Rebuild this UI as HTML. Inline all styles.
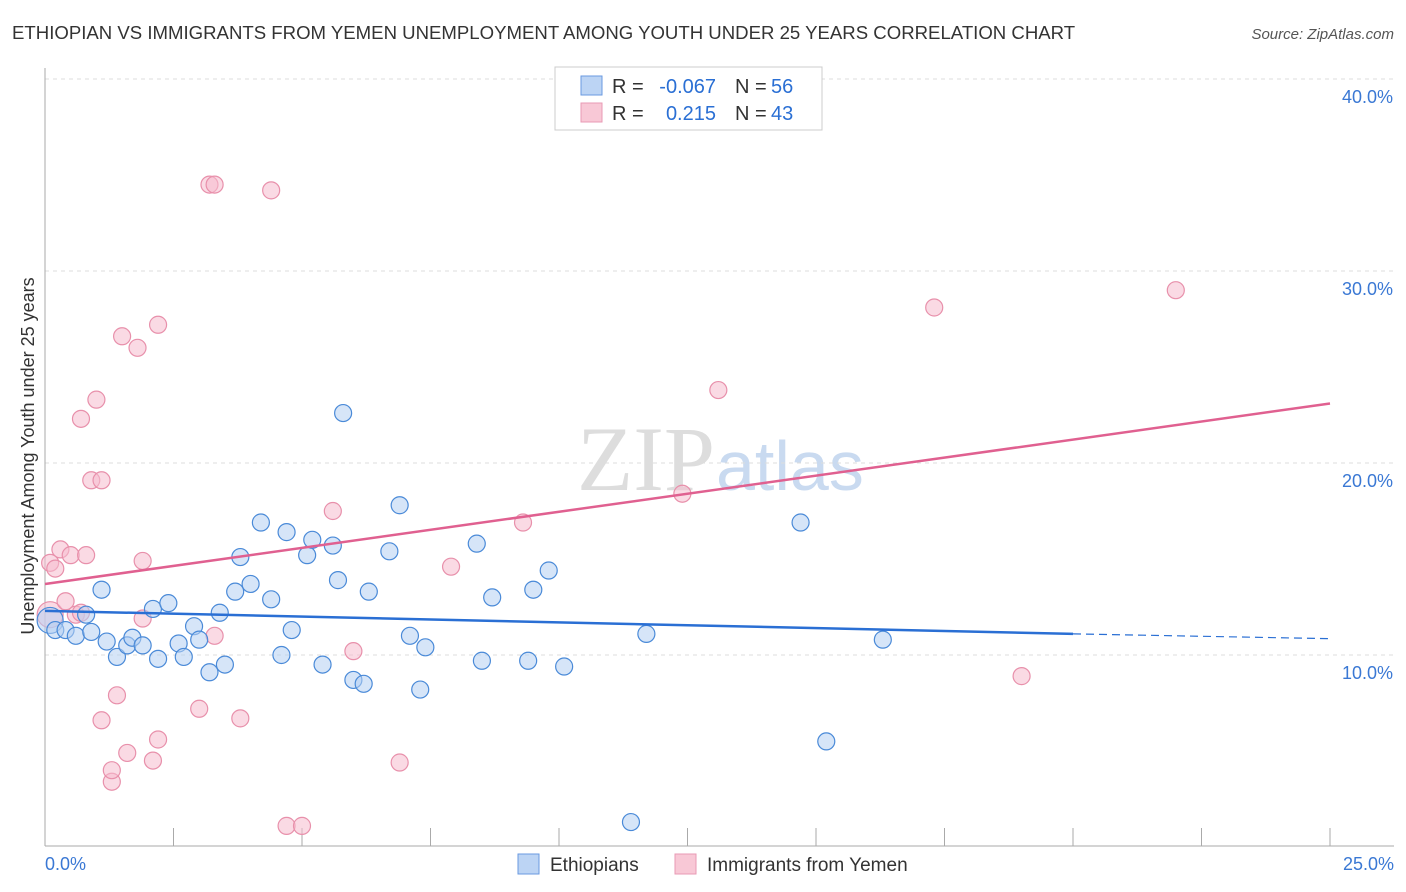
<!DOCTYPE html>
<html><head><meta charset="utf-8"><style>
body{margin:0;background:#fff;font-family:"Liberation Sans",sans-serif;}
#wrap{position:relative;width:1406px;height:892px;overflow:hidden}
</style></head><body><div id="wrap">
<svg id="svg" width="1406" height="892" xmlns="http://www.w3.org/2000/svg">
<text x="12" y="39" font-size="18.6" fill="#333">ETHIOPIAN VS IMMIGRANTS FROM YEMEN UNEMPLOYMENT AMONG YOUTH UNDER 25 YEARS CORRELATION CHART</text>
<text x="1394" y="39" font-size="15" fill="#555" font-style="italic" text-anchor="end">Source: ZipAtlas.com</text>
<text x="715" y="490" font-size="92" fill="#ddd" font-family="Liberation Serif" text-anchor="end">ZIP</text>
<text x="716" y="490" font-size="70" fill="#c9daf0">atlas</text>
<text transform="translate(34,456) rotate(-90)" font-size="18" fill="#333" text-anchor="middle">Unemployment Among Youth under 25 years</text>
<g id="grid"></g><g id="marks"></g>
<rect x="555" y="67" width="267" height="63" fill="#fff" stroke="#ccc"/>
<rect x="581" y="76" width="21" height="19" fill="#bcd4f4" stroke="#6a9ae0"/>
<rect x="581" y="103" width="21" height="19" fill="#f8c8d6" stroke="#e89ab4"/>
<g font-size="20" fill="#333">
<text x="612" y="93">R =</text><text x="716" y="93" text-anchor="end" fill="#2a6fd4">-0.067</text><text x="735" y="93">N =</text><text x="771" y="93" fill="#2a6fd4">56</text></g>
<g font-size="20" fill="#333">
<text x="612" y="120">R =</text><text x="716" y="120" text-anchor="end" fill="#2a6fd4">0.215</text><text x="735" y="120">N =</text><text x="771" y="120" fill="#2a6fd4">43</text></g>
<text x="45" y="870" font-size="18" fill="#3a78d4">0.0%</text>
<text x="1394" y="870" font-size="18" fill="#3a78d4" text-anchor="end">25.0%</text>
<rect x="518" y="854" width="21" height="20" fill="#bcd4f4" stroke="#6a9ae0"/>
<text x="550" y="871" font-size="19" fill="#333">Ethiopians</text>
<rect x="675" y="854" width="21" height="20" fill="#f8c8d6" stroke="#e89ab4"/>
<text x="707" y="871" font-size="19" fill="#333">Immigrants from Yemen</text>
</svg></div>
<script>
const yTicks=[10,20,30,40];
const yTickLabels=["10.0%","20.0%","30.0%","40.0%"];
const xTicks=[0,2.5,5,7.5,10,12.5,15,17.5,20,22.5,25];
const ethX=[0.1,0.2,0.4,0.6,0.8,0.9,1.1,1.2,1.4,1.6,1.7,1.9,2.1,2.2,2.4,2.6,2.7,2.9,3.0,3.2,3.4,3.5,3.7,3.8,4.0,4.2,4.4,4.6,4.7,4.8,5.1,5.2,5.4,5.6,5.7,5.8,6.0,6.2,6.3,6.7,6.9,7.1,7.3,7.4,8.4,8.5,8.7,9.4,9.5,9.8,10.1,11.4,11.7,14.7,15.2,16.3];
const ethY=[11.8,11.3,11.3,11.0,12.1,11.2,13.4,10.7,9.9,10.5,10.9,10.5,12.4,9.8,12.7,10.6,9.9,11.5,10.8,9.1,12.2,9.5,13.3,15.1,13.7,16.9,12.9,10.0,16.4,11.3,15.2,16.0,9.5,15.7,13.9,22.6,8.7,8.5,13.3,15.4,17.8,11.0,8.2,10.4,15.8,9.7,13.0,9.7,13.4,14.4,9.4,1.3,11.1,16.9,5.5,10.8];
const yemX=[0.1,0.1,0.2,0.3,0.4,0.5,0.6,0.7,0.7,0.8,0.9,1.0,1.1,1.1,1.3,1.3,1.4,1.5,1.6,1.8,1.9,1.9,2.1,2.2,2.2,3.0,3.2,3.3,3.3,3.8,4.4,4.7,5.0,5.6,6.0,6.9,7.9,9.3,12.4,13.1,17.3,19.0,22.0];
const yemY=[12.1,14.8,14.5,15.5,12.8,15.2,12.1,12.2,22.3,15.2,19.1,23.3,19.1,6.6,3.4,4.0,7.9,26.6,4.9,26.0,14.9,11.9,4.5,27.2,5.6,7.2,34.5,34.5,11.0,6.7,34.2,1.1,1.1,17.5,10.2,4.4,14.6,16.9,18.4,23.8,28.1,8.9,29.0];
const ethTrendX=[0,20,25];
const ethTrendY=[12.3,11.1,10.85];
const yemTrendX=[0,25];
const yemTrendY=[13.7,23.1];
const NS="http://www.w3.org/2000/svg";
const sx=v=>45+v/25*1285, sy=v=>847-v*19.2;
function mk(t,a,p){const e=document.createElementNS(NS,t);for(const k in a)e.setAttribute(k,a[k]);p.appendChild(e);return e;}
const grid=document.getElementById('grid'),marks=document.getElementById('marks');
yTicks.forEach((t,i)=>{
 const l=mk('line',{x1:45,x2:1394,y1:sy(t),y2:sy(t),stroke:'#ddd','stroke-dasharray':'4,4'},grid);
 
 
 const tx=mk('text',{x:1393,y:sy(t)+24,'font-size':18,fill:'#3a78d4','text-anchor':'end'},grid);
 tx.textContent=yTickLabels[i];
 
 
});
const topLine=mk('line',{x1:45,x2:1394,y1:79,y2:79,stroke:'#ddd','stroke-dasharray':'4,4'},grid);


const ya=mk('line',{x1:45,x2:45,y1:68,y2:846,stroke:'#aaa'},grid);


const xa=mk('line',{x1:45,x2:1394,y1:846,y2:846,stroke:'#aaa'},grid);


xTicks.forEach(t=>{
 const l=mk('line',{x1:sx(t),x2:sx(t),y1:828,y2:846,stroke:'#aaa'},grid);
 
 
});
function pts(X,Y,fill,stroke,name){X.forEach((x,i)=>{
 const r=(i===0)?13:8.5;
 const c=mk('circle',{cx:sx(x),cy:sy(Y[i]),r:r,fill:fill,'fill-opacity':0.55,stroke:stroke,'stroke-width':1.2},marks);
 
 
});}
pts(yemX,yemY,'#f5bccd','#e890ab','point-yemen');
pts(ethX,ethY,'#b4cff2','#4a8ad8','point-ethiopians');
const e1=mk('line',{x1:sx(ethTrendX[0]),y1:sy(ethTrendY[0]),x2:sx(ethTrendX[1]),y2:sy(ethTrendY[1]),stroke:'#2a6fd4','stroke-width':2.5},marks);


const e2=mk('line',{x1:sx(ethTrendX[1]),y1:sy(ethTrendY[1]),x2:sx(ethTrendX[2]),y2:sy(ethTrendY[2]),stroke:'#2a6fd4','stroke-width':1.2,'stroke-dasharray':'8,5'},marks);


const p1=mk('line',{x1:sx(yemTrendX[0]),y1:sy(yemTrendY[0]),x2:sx(yemTrendX[1]),y2:sy(yemTrendY[1]),stroke:'#e06090','stroke-width':2.5},marks);


</script></body></html>
